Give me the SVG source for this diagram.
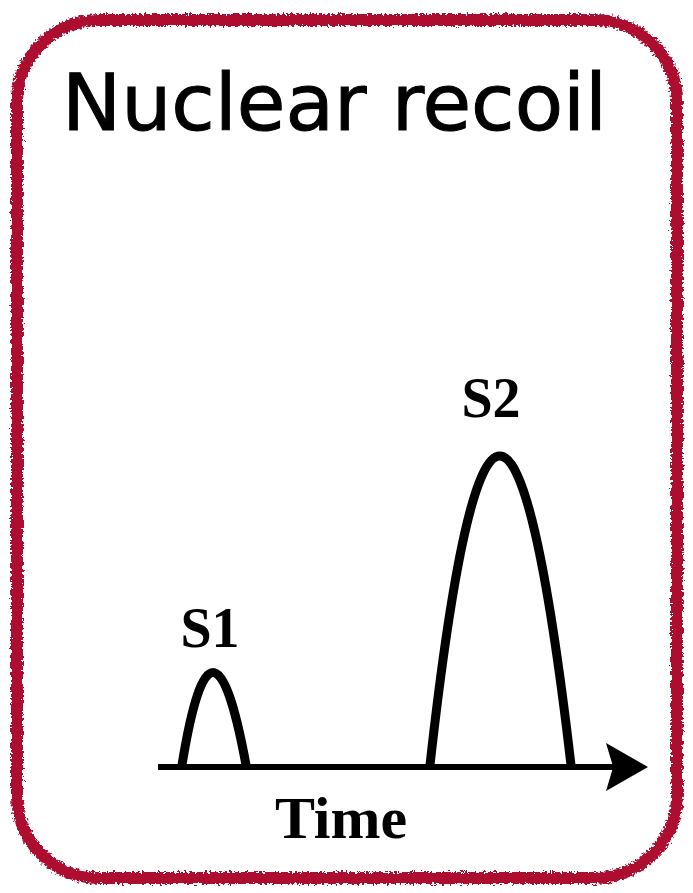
<svg xmlns="http://www.w3.org/2000/svg" width="693" height="893" viewBox="0 0 693 893">
<defs>
<filter id="rough" x="-5%" y="-5%" width="110%" height="110%">
<feTurbulence type="fractalNoise" baseFrequency="0.4" numOctaves="2" seed="3" result="n"/>
<feDisplacementMap in="SourceGraphic" in2="n" scale="7" xChannelSelector="R" yChannelSelector="G"/>
</filter>
<marker id="arrow" markerWidth="8" markerHeight="8" refX="6" refY="4" orient="auto" markerUnits="strokeWidth">
<path d="M0,0 L7,4 L0,8 L1.2,4 Z" fill="#000"/>
</marker>
<style>
.serif{font-family:"Palatino Linotype","Book Antiqua","Liberation Serif","DejaVu Serif",serif;font-weight:bold;fill:#000}
.peak{fill:none;stroke:#000;stroke-width:9;stroke-linecap:butt}
</style>
</defs>
<rect width="693" height="893" fill="#fff"/>
<g id="frame">
<rect x="17" y="20" width="660" height="858" rx="82" ry="82" fill="none" stroke="#ad0a2d" stroke-width="12" filter="url(#rough)"/>
</g>
<g id="title">
<text x="62" y="130" font-family="'Comic Sans MS','DejaVu Sans',sans-serif" font-size="78" textLength="545" lengthAdjust="spacingAndGlyphs" fill="#000" stroke="#000" stroke-width="1">Nuclear recoil</text>
</g>
<g id="connectors">
<line x1="158" y1="767" x2="642" y2="767" stroke="#000" stroke-width="6" marker-end="url(#arrow)"/>
</g>
<g id="s1">
<path class="peak" d="M182,765 Q212,580 246,765"/>
<text class="serif" x="210" y="647" font-size="56" text-anchor="middle">S1</text>
</g>
<g id="s2">
<path class="peak" d="M430,765 Q499,147 571,765"/>
<text class="serif" x="491" y="417" font-size="56" text-anchor="middle">S2</text>
</g>
<g id="time">
<text class="serif" x="341" y="838" font-size="60" text-anchor="middle">Time</text>
</g>
</svg>
